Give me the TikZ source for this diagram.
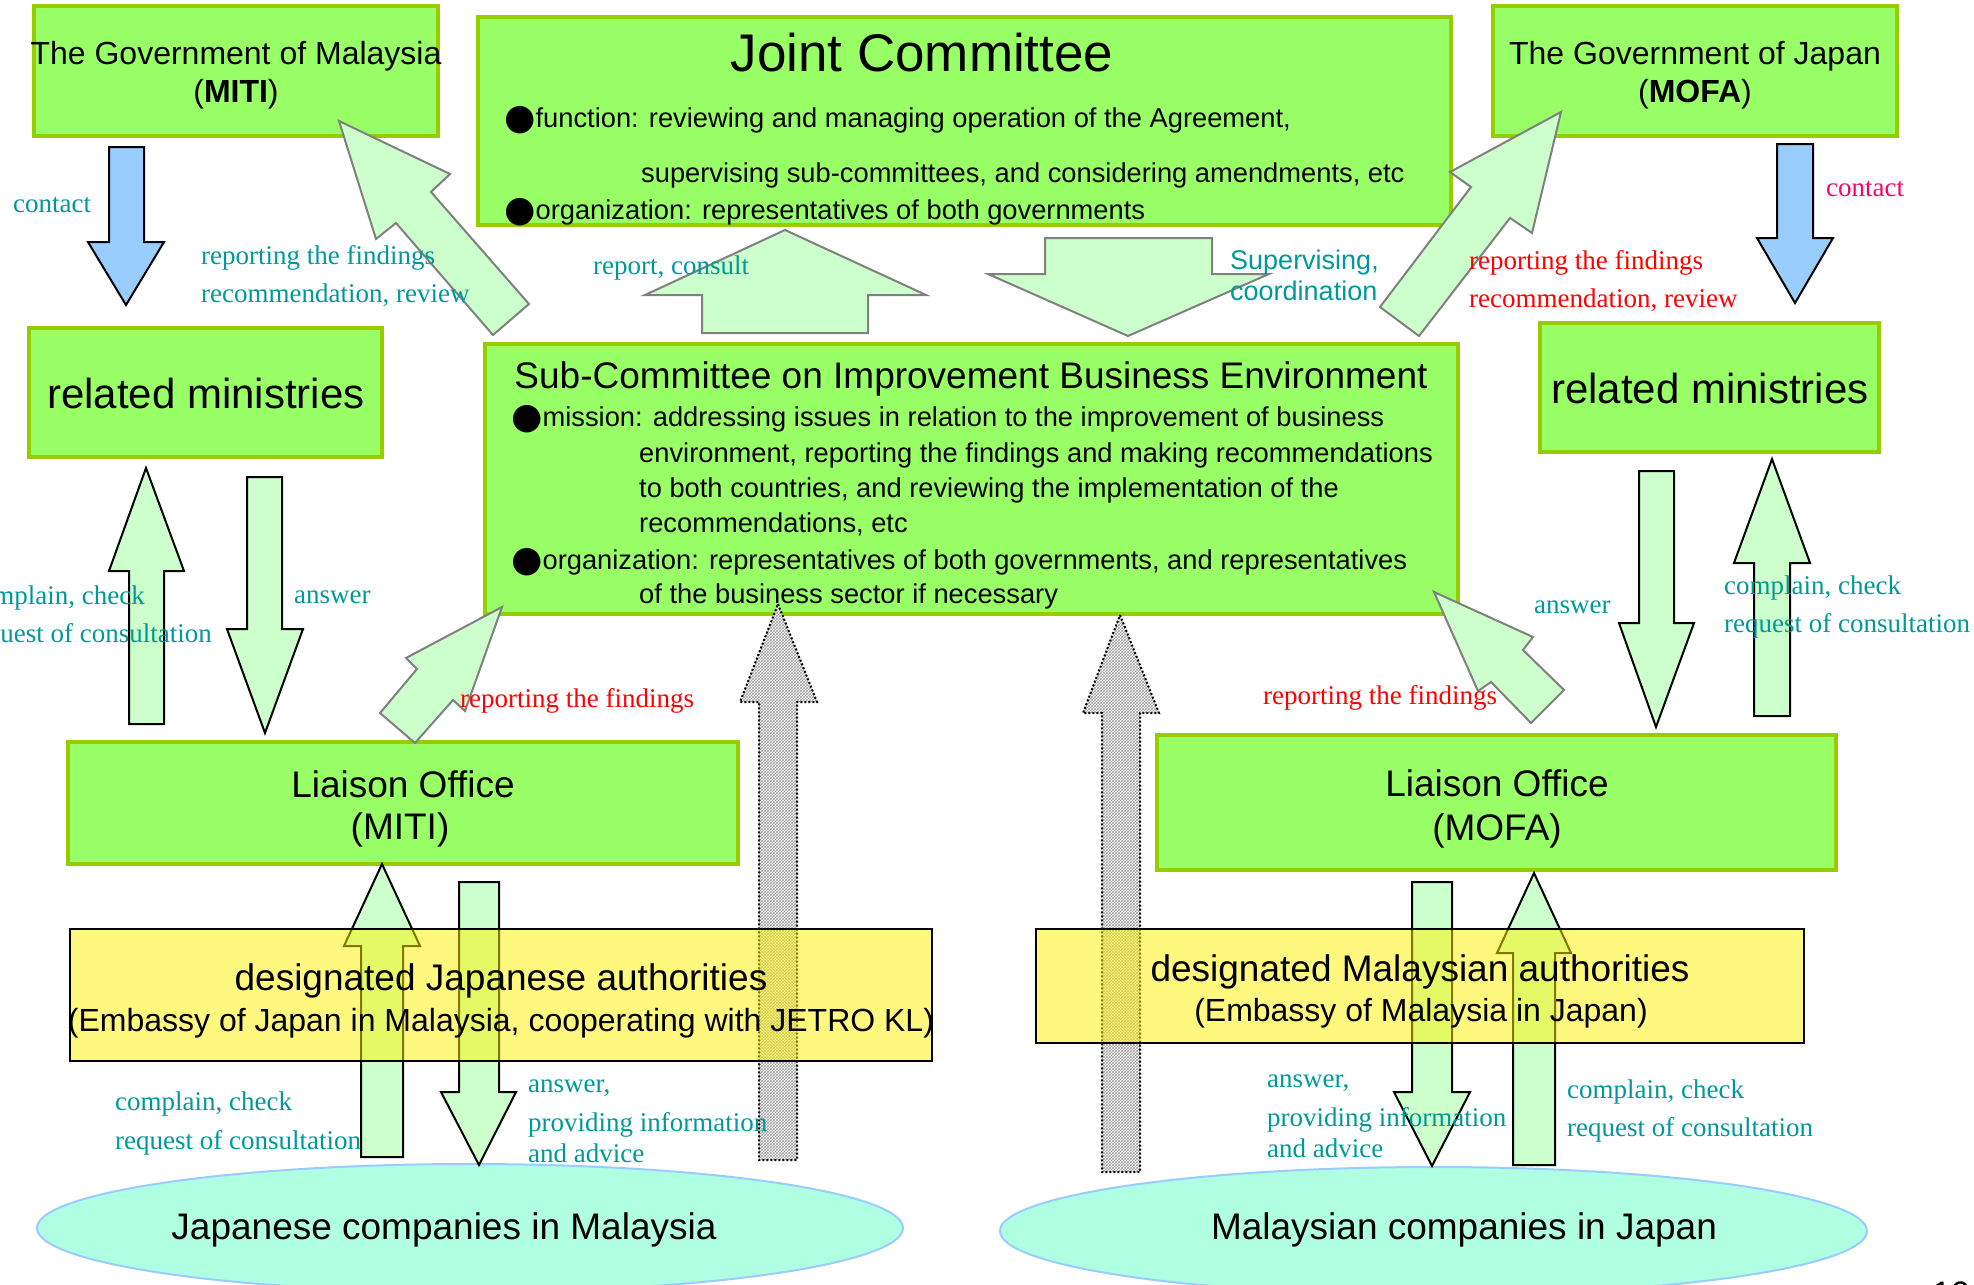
\documentclass[tikz,border=0pt]{standalone}
\usepackage{fontspec}
\setmainfont{Liberation Sans}
\newfontfamily\serifl{Liberation Serif}
\newfontfamily\dvs{DejaVu Sans}
\usetikzlibrary{shapes.geometric,patterns}
\definecolor{boxg}{HTML}{99FF66}
\definecolor{boxb}{HTML}{99CC00}
\definecolor{arrg}{HTML}{CCFFCC}
\definecolor{arrgray}{HTML}{808080}
\definecolor{arrblue}{HTML}{99CCFF}
\definecolor{labteal}{HTML}{009999}
\definecolor{pinkc}{HTML}{FF0066}
\definecolor{mint}{HTML}{B0FFE2}
\definecolor{ellb}{HTML}{99CCFF}
\newcommand\fsz[1]{\fontsize{#1}{#1}\selectfont}
\newcommand\bul{{\dvs\fsz{36}\raisebox{-2pt}{●}}}
\begin{document}
\begin{tikzpicture}[x=1pt,y=-1pt,
  gbox/.style={draw=boxb,line width=3.5pt,fill=boxg,inner sep=0pt,outer sep=0pt},
  ybox/.style={draw=black,line width=2.5pt,fill=yellow,fill opacity=0.5,draw opacity=1,inner sep=0pt,outer sep=0pt},
  ell/.style={ellipse,draw=ellb,line width=2pt,fill=mint,inner sep=0pt},
  tx/.style={inner sep=0pt,font=\fsz{#1},anchor=base,yshift={-0.36*#1pt}},
  lab/.style={inner sep=0pt,font={\serifl\fsz{27}},anchor=base west,yshift=-9pt},
  tl/.style={lab,text=labteal},
  rl/.style={lab,text=red},
  garrow/.style={fill=arrg,draw=arrgray,line width=2pt},
  varrow/.style={fill=arrg,draw=black,line width=2pt},
  barrow/.style={fill=arrblue,draw=black,line width=2pt},
  darrow/.style={fill=white,postaction={pattern=crosshatch,pattern color=gray!75},
     postaction={draw=black,line width=2pt,dash pattern=on 2pt off 2pt}}]
\clip (0,0) rectangle (1974,1285);
\fill[white] (0,0) rectangle (1974,1285);

% ---- green boxes
\node[gbox,minimum width=404pt,minimum height=130pt] (govm) at (236,71) {};
\node[gbox,minimum width=973pt,minimum height=208pt] (jc) at (964.5,121) {};
\node[gbox,minimum width=404pt,minimum height=130pt] (govj) at (1695,71) {};
\node[gbox,minimum width=353pt,minimum height=129pt] (rml) at (205.5,392.5) {};
\node[gbox,minimum width=339pt,minimum height=129pt] (rmr) at (1709.5,387.5) {};
\node[gbox,minimum width=973pt,minimum height=270pt] (sub) at (971.5,479) {};
\node[gbox,minimum width=670pt,minimum height=122pt] (lom) at (403,803) {};
\node[gbox,minimum width=679pt,minimum height=135pt] (loj) at (1496.5,802.5) {};

% ---- ellipses
\node[ell,minimum width=866pt,minimum height=128pt] (cm) at (470,1228) {};
\node[ell,minimum width=867pt,minimum height=128pt] (cj) at (1433.5,1231) {};

% ---- block arrows
\draw[barrow] (109,147) -- (144,147) -- (144,242) -- (164,242) -- (126,305) -- (88,242) -- (109,242) -- cycle;
\draw[barrow] (1777,144) -- (1813,144) -- (1813,238) -- (1833,238) -- (1795,303) -- (1757,238) -- (1777,238) -- cycle;
\draw[garrow] (339,121) -- (450,174) -- (431,192) -- (529,304) -- (493,335) -- (396,223) -- (376,239) -- cycle;
\draw[garrow] (785,230) -- (926,295) -- (868,295) -- (868,333) -- (702,333) -- (702,295) -- (645,295) -- cycle;
\draw[garrow] (1045,238) -- (1212,238) -- (1212,274) -- (1269,274) -- (1128,336) -- (988,274) -- (1045,274) -- cycle;
\draw[garrow] (1561,112) -- (1532,233) -- (1510,218) -- (1419,336) -- (1380,307) -- (1471,187) -- (1450,172) -- cycle;
\draw[varrow] (146,468) -- (184,571) -- (164,571) -- (164,724) -- (129,724) -- (129,571) -- (109,571) -- cycle;
\draw[varrow] (247,477) -- (282,477) -- (282,629) -- (303,629) -- (265,733) -- (227,629) -- (247,629) -- cycle;
\draw[garrow] (502,607) -- (465,711) -- (453,700) -- (415,743) -- (380,713) -- (417,669) -- (406,658) -- cycle;
\draw[garrow] (1434,592) -- (1533,637) -- (1523,650) -- (1564,690) -- (1531,723) -- (1491,682) -- (1478,691) -- cycle;
\draw[varrow] (1639,471) -- (1674,471) -- (1674,623) -- (1694,623) -- (1656,727) -- (1619,623) -- (1639,623) -- cycle;
\draw[varrow] (1772,459) -- (1810,563) -- (1790,563) -- (1790,716) -- (1754,716) -- (1754,563) -- (1734,563) -- cycle;
\draw[varrow] (382,864) -- (420,946) -- (403,946) -- (403,1157) -- (361,1157) -- (361,946) -- (344,946) -- cycle;
\draw[varrow] (459,882) -- (499,882) -- (499,1092) -- (516,1092) -- (479,1165) -- (441,1092) -- (459,1092) -- cycle;
\draw[varrow] (1412,882) -- (1452,882) -- (1452,1092) -- (1470,1092) -- (1432,1166) -- (1394,1092) -- (1412,1092) -- cycle;
\draw[varrow] (1534,873) -- (1571,953) -- (1555,953) -- (1555,1165) -- (1513,1165) -- (1513,953) -- (1497,953) -- cycle;
\path[darrow] (778,604) -- (817,702) -- (797,702) -- (797,1160) -- (759,1160) -- (759,702) -- (740,702) -- cycle;
\path[darrow] (1120,615) -- (1159,713) -- (1140,713) -- (1140,1172) -- (1102,1172) -- (1102,713) -- (1083,713) -- cycle;

% ---- yellow boxes (translucent, over the arrows)
\node[ybox,minimum width=862pt,minimum height=132pt] (dja) at (501,995) {};
\node[ybox,minimum width=768pt,minimum height=114pt] (dma) at (1420,986) {};

% ---- texts in boxes
\node[tx=32] (govm1) at (236,53) {The Government of Malaysia};
\node[tx=32] (govm2) at (236,91) {(\textbf{MITI})};
\node[tx=32] (govj1) at (1695,53) {The Government of Japan};
\node[tx=32] (govj2) at (1695,91) {(\textbf{MOFA})};
\node[tx=53] (jct) at (922,52) {Joint Committee};
\node[tx=27.3,anchor=base west] (jc1) at (504,118) {\bul function: reviewing and managing operation of the Agreement,};
\node[tx=27.3,anchor=base west] (jc2) at (641,173) {supervising sub-committees, and considering amendments, etc};
\node[tx=27.3,anchor=base west] (jc3) at (504,210) {\bul organization: representatives of both governments};
\node[tx=42] (rml1) at (206,393) {related ministries};
\node[tx=42] (rmr1) at (1710,388) {related ministries};
\node[tx=37] (subt) at (971,375) {Sub-Committee on Improvement Business Environment};
\node[tx=27.3,anchor=base west] (sub1) at (511,417) {\bul mission: addressing issues in relation to the improvement of business};
\node[tx=27.3,anchor=base west] (sub2) at (639,453) {environment, reporting the findings and making recommendations};
\node[tx=27.3,anchor=base west] (sub3) at (639,488) {to both countries, and reviewing the implementation of the};
\node[tx=27.3,anchor=base west] (sub4) at (639,523) {recommendations, etc};
\node[tx=27.3,anchor=base west] (sub5) at (511,560) {\bul organization: representatives of both governments, and representatives};
\node[tx=27.3,anchor=base west] (sub6) at (639,594) {of the business sector if necessary};
\node[tx=37] (lom1) at (403,784) {Liaison Office};
\node[tx=37] (lom2) at (400,826) {(MITI)};
\node[tx=37] (loj1) at (1497,783) {Liaison Office};
\node[tx=37] (loj2) at (1497,827) {(MOFA)};
\node[tx=37] (dja1) at (501,977) {designated Japanese authorities};
\node[tx=32] (dja2) at (501,1020) {(Embassy of Japan in Malaysia, cooperating with JETRO KL)};
\node[tx=37] (dma1) at (1420,968) {designated Malaysian authorities};
\node[tx=32] (dma2) at (1421,1010) {(Embassy of Malaysia in Japan)};
\node[tx=37] (cm1) at (444,1226) {Japanese companies in Malaysia};
\node[tx=37] (cj1) at (1464,1226) {Malaysian companies in Japan};
\node[inner sep=0pt,anchor=base west,font=\fsz{34}] (pg) at (1932,1305) {10};

% ---- labels
\node[tl] (l1) at (13,203) {contact};
\node[tl] (l2) at (201,255) {reporting the findings};
\node[tl] (l3) at (201,293) {recommendation, review};
\node[tl] (l4) at (593,265) {report, consult};
\node[tx=27,anchor=base west,text=labteal] (l5) at (1230,260) {Supervising,};
\node[tx=27,anchor=base west,text=labteal] (l6) at (1230,291) {coordination};
\node[rl] (l7) at (1469,260) {reporting the findings};
\node[rl] (l8) at (1469,298) {recommendation, review};
\node[lab,text=pinkc] (l9) at (1826,187) {contact};
\node[tl,anchor=base east] (l10) at (145,595) {complain, check};
\node[tl,anchor=base east] (l11) at (212,633) {request of consultation};
\node[tl] (l12) at (294,594) {answer};
\node[rl] (l13) at (460,698) {reporting the findings};
\node[rl] (l14) at (1263,695) {reporting the findings};
\node[tl] (l15) at (1534,604) {answer};
\node[tl] (l16) at (1724,585) {complain, check};
\node[tl] (l17) at (1724,623) {request of consultation};
\node[tl] (l18) at (115,1101) {complain, check};
\node[tl] (l19) at (115,1140) {request of consultation};
\node[tl] (l20) at (528,1083) {answer,};
\node[tl] (l21) at (528,1122) {providing information};
\node[tl] (l22) at (528,1153) {and advice};
\node[tl] (l23) at (1267,1078) {answer,};
\node[tl] (l24) at (1267,1117) {providing information};
\node[tl] (l25) at (1267,1148) {and advice};
\node[tl] (l26) at (1567,1089) {complain, check};
\node[tl] (l27) at (1567,1127) {request of consultation};
\end{tikzpicture}
\end{document}
